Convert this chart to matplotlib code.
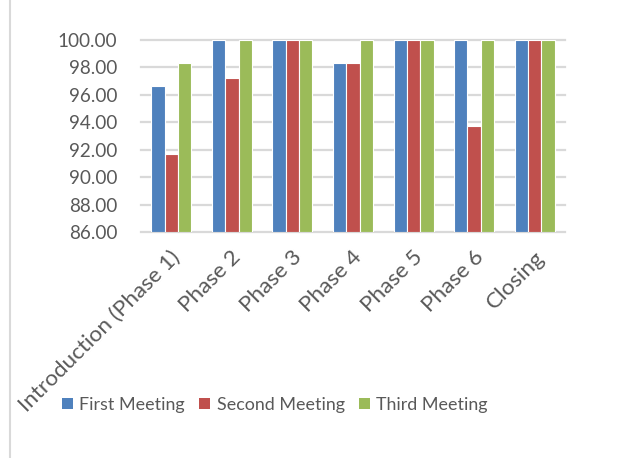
import matplotlib
matplotlib.use("Agg")
import matplotlib.pyplot as plt
import numpy as np
from matplotlib.lines import Line2D
from matplotlib.patches import Patch

categories = ["Introduction (Phase 1)", "Phase 2", "Phase 3", "Phase 4", "Phase 5", "Phase 6", "Closing"]
first_meeting = [96.67, 100.00, 100.00, 98.33, 100.00, 100.00, 100.00]
second_meeting = [91.67, 97.22, 100.00, 98.33, 100.00, 93.75, 100.00]
third_meeting = [98.33, 100.00, 100.00, 100.00, 100.00, 100.00, 100.00]
series_names = ["First Meeting", "Second Meeting", "Third Meeting"]
yticks = [86, 88, 90, 92, 94, 96, 98, 100]

colors = ["#4F81BD", "#C0504D", "#9BBB59"]
text_color = "#595959"
grid_color = "#D9D9D9"

plt.rcParams['font.family'] = ['Lato', 'DejaVu Sans']

fig = plt.figure(figsize=(6.33, 4.58), dpi=100)
ax = fig.add_axes([141/633, 1 - 232/458, 424/633, 192/458])

x = np.arange(len(categories))
w = 0.22
for i, (vals, name) in enumerate(zip([first_meeting, second_meeting, third_meeting], series_names)):
    ax.bar(x + (i - 1) * w, np.array(vals) - 86, bottom=86, width=w, color=colors[i],
           edgecolor="white", linewidth=0.8, label=name, zorder=3)

ax.set_xlim(-0.5, len(categories) - 0.5)
ax.set_ylim(86, 100)
for t in yticks:
    ax.axhline(t, color=grid_color, lw=1.6, zorder=1, clip_on=False)

for s in ax.spines.values():
    s.set_visible(False)

ax.set_yticks(yticks)
ax.set_yticklabels([f"{v:.2f}" for v in yticks], fontsize=13.6, color=text_color)
ax.tick_params(axis='y', length=0, pad=17)

ax.set_xticks(x)
ax.set_xticklabels([])
ax.tick_params(axis='x', length=0)
for xi, lab in zip(x, categories):
    ax.annotate(lab, xy=(xi, 86), xycoords='data', xytext=(-1, -15), textcoords='offset pixels',
                rotation=45, ha='right', va='top', rotation_mode='anchor',
                fontsize=16.2, color=text_color, annotation_clip=False)

handles = [Patch(facecolor=c, edgecolor='none') for c in colors]
fig.legend(handles, series_names, loc='center', bbox_to_anchor=(275/633, 1 - 405/458),
           ncol=3, frameon=False, fontsize=12.9, labelcolor=text_color,
           handlelength=0.62, handleheight=0.62, handletextpad=0.35, columnspacing=0.8)

fig.add_artist(Line2D([10/633, 10/633], [0, 1], transform=fig.transFigure, color=grid_color, lw=1.5))

fig.savefig("out.png", dpi=100)
